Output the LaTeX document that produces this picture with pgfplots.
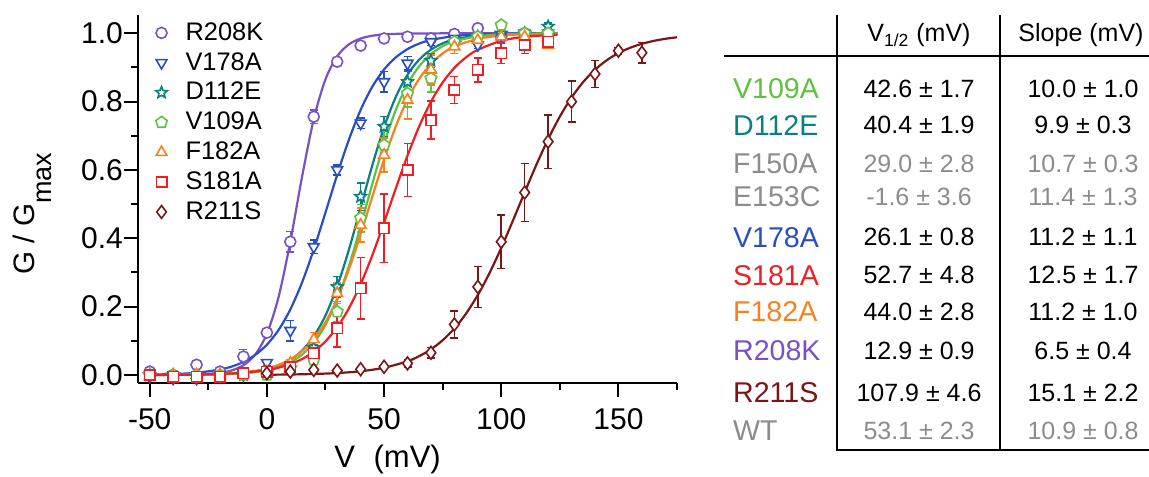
\documentclass[border=0pt]{standalone}
\usepackage{fontspec}
\setmainfont{Liberation Sans}
\usepackage{pgfplots}
\pgfplotsset{compat=1.18}
\usetikzlibrary{plotmarks}
\definecolor{cPur}{RGB}{118,82,196}
\definecolor{cBlu}{RGB}{40,78,196}
\definecolor{cTeal}{RGB}{10,128,128}
\definecolor{cGrn}{RGB}{96,192,64}
\definecolor{cOrg}{RGB}{250,128,30}
\definecolor{cRed}{RGB}{240,30,35}
\definecolor{cDkr}{RGB}{122,22,22}
\definecolor{cGry}{RGB}{140,140,140}
\pgfdeclareplotmark{ostar}{%
 \pgfpathmoveto{\pgfpointpolar{90}{\pgfplotmarksize}}%
 \pgfpathlineto{\pgfpointpolar{126}{0.45\pgfplotmarksize}}%
 \pgfpathlineto{\pgfpointpolar{162}{\pgfplotmarksize}}%
 \pgfpathlineto{\pgfpointpolar{198}{0.45\pgfplotmarksize}}%
 \pgfpathlineto{\pgfpointpolar{234}{\pgfplotmarksize}}%
 \pgfpathlineto{\pgfpointpolar{270}{0.45\pgfplotmarksize}}%
 \pgfpathlineto{\pgfpointpolar{306}{\pgfplotmarksize}}%
 \pgfpathlineto{\pgfpointpolar{342}{0.45\pgfplotmarksize}}%
 \pgfpathlineto{\pgfpointpolar{18}{\pgfplotmarksize}}%
 \pgfpathlineto{\pgfpointpolar{54}{0.45\pgfplotmarksize}}%
 \pgfpathclose\pgfusepathqfillstroke}
\pgfplotsset{
 dat/.style={only marks, mark options={solid, fill=white, line width=0.8pt},
   error bars/y dir=both, error bars/y explicit,
   error bars/error bar style={line width=0.75pt},
   error bars/error mark options={rotate=90, mark size=2pt, line width=0.75pt}},
 fit/.style={no marks, line width=1.1pt, smooth, forget plot},
}
\newcommand{\namefont}{\fontsize{14.3}{16}\selectfont}
\newcommand{\numfont}{\fontsize{12.5}{14}\selectfont}
\begin{document}
\begin{tikzpicture}
\useasboundingbox (-69pt,-46.5pt) rectangle (505.5pt,191.5pt);
\begin{axis}[
 at={(0pt,0pt)}, anchor=south west,
 scale only axis, width=269.5pt, height=184pt,
 xmin=-55, xmax=175, ymin=-0.0234, ymax=1.0536,
 axis lines*=left, tick align=outside,
 axis line style={line width=1pt},
 tick style={line width=1pt, black},
 major tick length=7pt, minor tick length=3.5pt,
 xtick={-50,0,50,100,150}, minor xtick={-25,25,75,125,175},
 ytick={0,0.2,0.4,0.6,0.8,1.0}, minor ytick={0.1,0.3,0.5,0.7,0.9},
 yticklabel style={/pgf/number format/fixed, /pgf/number format/fixed zerofill, /pgf/number format/precision=1, xshift=3pt},
 xticklabel style={yshift=-2pt},
 /pgf/number format/assume math mode=true,
 tick label style={font=\fontsize{15}{17}\selectfont},
 xlabel={V\hspace{0.6em}(mV)},
 ylabel={G / G\raisebox{-8.5pt}{\fontsize{13.5}{15}\selectfont max}},
 every axis x label/.style={at={(axis description cs:0.463,0)}, anchor=center, yshift=-38pt, font=\fontsize{15.5}{17}\selectfont},
 every axis y label/.style={at={(axis description cs:-0.1957,0.46)}, anchor=center, rotate=90, font=\fontsize{14.8}{17}\selectfont},
 legend style={at={(axis description cs:-0.004,0.986)}, anchor=north west, draw=none, fill=none,
   font=\fontsize{12.7}{14}\selectfont, row sep=2.55pt, inner sep=0pt,
   nodes={inner xsep=1pt, inner ysep=1pt}},
 legend cell align=left,
 legend image code/.code={\draw[#1] plot[only marks] coordinates {(0pt,0pt)}; \path[draw=none, fill=none] (-12.65pt,0pt) -- (11pt,0pt);},
]
% fitted Boltzmann curves (values read as points)
\addplot[fit, cPur] coordinates {(-52,0.0001)(-40,0.0003)(-30,0.0014)(-20,0.0063)(-15,0.0135)(-10,0.0287)(-5,0.0599)(0,0.1208)(5,0.2287)(10,0.3903)(15,0.580)(20,0.7488)(25,0.8655)(30,0.9328)(35,0.9677)(40,0.9848)(45,0.9929)(50,0.9967)(60,0.9993)(80,1.0)(100,1.0)(124,1.0)};
\addplot[fit, cBlu] coordinates {(-52,0.0011)(-40,0.0027)(-30,0.0066)(-20,0.0161)(-15,0.0248)(-10,0.0383)(-5,0.0586)(0,0.0887)(5,0.1319)(10,0.1919)(15,0.2707)(20,0.3671)(25,0.4755)(30,0.5861)(35,0.6889)(40,0.7757)(45,0.8439)(50,0.8942)(55,0.9295)(60,0.9538)(65,0.9699)(70,0.9806)(80,0.9919)(90,0.9967)(100,0.9986)(124,0.9998)};
\addplot[fit, cTeal] coordinates {(-52,0.0001)(-30,0.0008)(-20,0.0022)(-10,0.0061)(-5,0.0101)(0,0.0166)(5,0.0272)(10,0.0443)(15,0.0714)(20,0.1130)(25,0.1742)(30,0.2591)(35,0.3669)(40,0.4899)(45,0.6141)(50,0.7250)(55,0.8138)(60,0.8787)(65,0.9231)(70,0.9521)(75,0.9706)(80,0.9820)(90,0.9934)(100,0.9976)(110,0.9991)(124,0.9997)};
\addplot[fit, cGrn] coordinates {(-52,0.0001)(-30,0.0007)(-20,0.0019)(-10,0.0052)(-5,0.0085)(0,0.0139)(5,0.0228)(10,0.0370)(15,0.0595)(20,0.0945)(25,0.1468)(30,0.2210)(35,0.3187)(40,0.4354)(45,0.5597)(50,0.6770)(55,0.7756)(60,0.8507)(65,0.9038)(70,0.9393)(75,0.9623)(80,0.9768)(90,0.9913)(100,0.9968)(110,0.9988)(124,0.9996)};
\addplot[fit, cOrg] coordinates {(-52,0.0002)(-40,0.0006)(-30,0.0013)(-20,0.0033)(-10,0.0080)(-5,0.0124)(0,0.0193)(5,0.0298)(10,0.0458)(15,0.0698)(20,0.1050)(25,0.1549)(30,0.2227)(35,0.3093)(40,0.4117)(45,0.5223)(50,0.6308)(55,0.7275)(60,0.8067)(65,0.8670)(70,0.9106)(75,0.9409)(80,0.9614)(90,0.9838)(100,0.9933)(110,0.9972)(124,0.9991)};
\addplot[fit, cRed] coordinates {(-52,0.0003)(-40,0.0006)(-30,0.0013)(-20,0.0030)(-10,0.0066)(0,0.0145)(5,0.0215)(10,0.0318)(15,0.0467)(20,0.0681)(25,0.0983)(30,0.1399)(35,0.1953)(40,0.2658)(45,0.3507)(50,0.4462)(55,0.5459)(60,0.6420)(65,0.7279)(70,0.7996)(75,0.8562)(80,0.8988)(85,0.9298)(90,0.9518)(100,0.9778)(110,0.9899)(124,0.9961)};
\addplot[fit, cDkr] coordinates {(0,0.0008)(10,0.0015)(20,0.0030)(30,0.0057)(40,0.0110)(50,0.0212)(60,0.0402)(65,0.0552)(70,0.0752)(75,0.1017)(80,0.1361)(85,0.1799)(90,0.2341)(95,0.2985)(100,0.3720)(105,0.4521)(110,0.5347)(115,0.6154)(120,0.6902)(125,0.7562)(130,0.8121)(135,0.8576)(140,0.8934)(145,0.9211)(150,0.9421)(155,0.9577)(160,0.9693)(165,0.9777)(170,0.9839)(175,0.9884)};
% data
\addplot[dat, cPur, mark=*, mark size=2.75pt] table[x=x,y=y,y error=e] {
x y e
-50 0.01 0
-40 0.0 0
-30 0.03 0.01
-20 0.01 0
-10 0.054 0.02
0 0.124 0.01
10 0.39 0.03
20 0.756 0.02
30 0.917 0.01
40 0.964 0.01
50 0.985 0
60 0.99 0
70 0.985 0
80 0.998 0
90 1.015 0
100 0.99 0
110 1.0 0
120 1.0 0
};
\addlegendentry{R208K}
\addplot[dat, cBlu, mark=triangle*, mark size=3.1pt, mark options={solid, fill=white, line width=0.8pt, rotate=180}] table[x=x,y=y,y error=e] {
x y e
-50 -0.005 0
-40 -0.01 0
-30 -0.01 0
-20 -0.005 0
-10 0.0 0
0 0.036 0.01
10 0.13 0.03
20 0.375 0.02
30 0.6 0.015
40 0.737 0.015
50 0.858 0.03
60 0.912 0.02
70 0.975 0.01
80 0.985 0.01
90 0.966 0.01
100 0.995 0
110 1.0 0
120 1.0 0
};
\addlegendentry{V178A}
\addplot[dat, cTeal, mark=ostar, mark size=3pt] table[x=x,y=y,y error=e] {
x y e
-50 0.0 0
-40 0.0 0
-30 0.0 0
-20 0.0 0
-10 0.0 0
0 0.005 0
10 0.02 0
20 0.08 0.01
30 0.258 0.03
40 0.522 0.04
50 0.727 0.03
60 0.858 0.03
70 0.92 0.02
80 0.97 0.01
90 0.99 0
100 1.0 0
110 1.0 0
120 1.02 0.01
};
\addlegendentry{D112E}
\addplot[dat, cGrn, mark=pentagon*, mark size=3pt] table[x=x,y=y,y error=e] {
x y e
-50 0.0 0
-40 0.0 0
-30 0.0 0
-20 0.0 0
-10 0.0 0
0 0.0 0
10 0.02 0
20 0.044 0.01
30 0.185 0.03
40 0.459 0.04
50 0.673 0.04
60 0.824 0.04
70 0.868 0.04
80 0.975 0.01
90 0.99 0
100 1.024 0
110 1.0 0
120 1.0 0
};
\addlegendentry{V109A}
\addplot[dat, cOrg, mark=triangle*, mark size=3.1pt] table[x=x,y=y,y error=e] {
x y e
-50 -0.005 0
-40 0.0 0
-30 0.0 0
-20 0.0 0
-10 0.005 0
0 0.01 0
10 0.035 0.01
20 0.104 0.02
30 0.239 0.03
40 0.439 0.05
50 0.644 0.05
60 0.805 0.056
70 0.893 0.044
80 0.961 0.02
90 0.98 0.01
100 0.99 0.01
110 0.99 0.01
120 0.965 0.01
};
\addlegendentry{F182A}
\addplot[dat, cRed, mark=square*, mark size=2.6pt] table[x=x,y=y,y error=e] {
x y e
-50 0.0 0
-40 -0.005 0
-30 -0.005 0
-20 -0.005 0
-10 0.005 0
0 0.01 0
10 0.022 0.01
20 0.063 0.02
30 0.137 0.055
40 0.254 0.09
50 0.429 0.1
60 0.6 0.078
70 0.746 0.056
80 0.834 0.04
90 0.893 0.035
100 0.941 0.03
110 0.966 0.025
120 0.975 0.02
};
\addlegendentry{S181A}
\addplot[dat, cDkr, mark=diamond*, mark size=3.2pt] table[x=x,y=y,y error=e] {
x y e
0 0.005 0
10 0.01 0
20 0.015 0
30 0.013 0
40 0.017 0
50 0.024 0
60 0.034 0.01
70 0.065 0.015
80 0.148 0.04
90 0.258 0.06
100 0.39 0.078
110 0.534 0.085
120 0.683 0.078
130 0.8 0.06
140 0.881 0.04
150 0.949 0.01
160 0.943 0.03
};
\addlegendentry{R211S}
\end{axis}
% ---- table ----
\draw[line width=1pt] (349.35pt,184pt) -- (349.35pt,-33.5pt) -- (505.5pt,-33.5pt);
\draw[line width=1pt] (431pt,184pt) -- (431pt,-33.5pt);
\draw[line width=1pt] (293pt,163.5pt) -- (505.5pt,163.5pt);
\node[anchor=base, font=\fontsize{12.5}{14}\selectfont] at (390.5pt,170.5pt) {V\textsubscript{1/2} (mV)};
\node[anchor=base, font=\fontsize{12.5}{14}\selectfont] at (471.5pt,170.5pt) {Slope (mV)};
\foreach \yc/\n/\c/\a/\b/\tc in {
 147.35/V109A/cGrn/42.6 ± 1.7/10.0 ± 1.0/black,
 129/D112E/cTeal/40.4 ± 1.9/9.9 ± 0.3/black,
 109.85/F150A/cGry/29.0 ± 2.8/10.7 ± 0.3/cGry,
 93.15/E153C/cGry/-1.6 ± 3.6/11.4 ± 1.3/cGry,
 73/V178A/cBlu/26.1 ± 0.8/11.2 ± 1.1/black,
 54/S181A/cRed/52.7 ± 4.8/12.5 ± 1.7/black,
 35.65/F182A/cOrg/44.0 ± 2.8/11.2 ± 1.0/black,
 16.5/R208K/cPur/12.9 ± 0.9/6.5 ± 0.4/black,
 -4.85/R211S/cDkr/107.9 ± 4.6/15.1 ± 2.2/black,
 -23.5/WT/cGry/53.1 ± 2.3/10.9 ± 0.8/cGry}{
 \node[anchor=base west, inner sep=0pt, text=\c, font=\namefont] at (297.35pt,\yc pt-5.1pt) {\n};
 \node[anchor=base, inner sep=0pt, text=\tc, font=\numfont] at (390.5pt,\yc pt-4.5pt) {\a};
 \node[anchor=base, inner sep=0pt, text=\tc, font=\numfont] at (472.5pt,\yc pt-4.5pt) {\b};
}
\end{tikzpicture}
\end{document}
